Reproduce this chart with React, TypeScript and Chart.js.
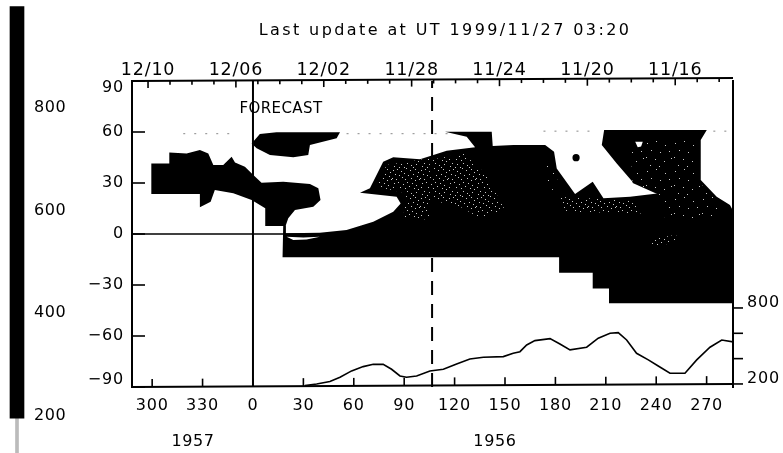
import React, { useEffect, useRef } from "react";
import { Chart, registerables } from "chart.js";

Chart.register(...registerables);

type P = [number, number];

const FONT = "'DejaVu Sans', sans-serif";
const latTicks = [-90, -60, -30, 0, 30, 60, 90];
const lonTicks = [-60, -30, 0, 30, 60, 90, 120, 150, 180, 210, 240, 270];
const topLabels = ["12/10", "12/06", "12/02", "11/28", "11/24", "11/20", "11/16"];
const dayTicks = [0, 1, 2, 3, 4, 5, 6, 7, 8, 9, 10, 11, 12, 13, 14, 15, 16, 17, 18, 19, 20, 21, 22, 23, 24, 25, 26];
const rightTicks = [200, 400, 600, 800];
const rightLabels = [200, 800];
const barTicks = [200, 400, 600, 800];
const forecastLon = 0;
const nowLon = 106.6;

const bandWest: P[] = [
  [-60.5, 41.5], [-49.8, 41.5], [-49.8, 48], [-39.5, 47.4], [-31.6, 49.4], [-26.6, 47.4], [-23.6, 40.6],
  [-17.7, 40.6], [-12.7, 45.5], [-10.7, 42], [-4.8, 39.6], [0.2, 34.7], [5.1, 30.2], [18, 30.8], [33.9, 29.4],
  [38.9, 26.9], [40.2, 20], [35.9, 16.1], [25, 14.1], [21, 9.2], [19.4, 4.7], [7.3, 4.7], [7.3, 15.1],
  [-0.8, 20], [-11.7, 23.9], [-22.7, 25.9], [-25.2, 19], [-31.6, 15.7], [-31.6, 23.5], [-60.5, 23.5],
];
const blobNorth: P[] = [
  [-0.8, 53.3], [4.1, 58.8], [14, 59.8], [51.8, 59.8], [49.8, 56.3], [33.9, 52.3], [32.9, 46.5], [24, 45.1],
  [10.1, 46.5], [2.2, 50.4],
];
const mainRegion: P[] = [
  [17.6, -13.7], [18, 5], [19.6, 5], [19.6, 0.5], [39.8, 0.8], [55.7, 2.3], [71.6, 7.2], [83.5, 13.1], [87.9, 18], [85.5, 21.9],
  [63.7, 24.3], [69.6, 26.9], [77.5, 42.5], [83.5, 45.1], [99.4, 43.9], [107.4, 46.5], [115.3, 49], [132.2, 51],
  [127.2, 57.2], [114.3, 60.2], [142.1, 60.2], [142.7, 51.7], [155, 52.3], [173.9, 52.3], [179.2, 48.4],
  [180.8, 38.6], [191.7, 23.5], [202.2, 30.8], [208.6, 21], [224.4, 21.9], [244.3, 24.3], [226.4, 30.2],
  [216.5, 41.5], [207.6, 52.3], [209, 61.2], [270.1, 61.2], [266.5, 55.3], [266.5, 31.7], [276, 21.9],
  [283.9, 17], [286, 13.1], [286, -40.8], [211.9, -40.8], [211.9, -32], [202.2, -32], [202.2, -22.8],
  [182.2, -22.8], [182.2, -13.7],
];
const sliverWhite: P[] = [[20, -1.6], [30, -2], [39.8, -1.6], [31.9, -3.2], [24, -3.5]];
const holeWhite: P[] = [[227.5, 54.2], [232, 54.2], [231, 51.5], [229, 51]];
const spotBlack: P[] = [[192.3, 44.9]];

const speckleDense: P[][] = [
  [[105.4, 43.5], [125.2, 47.4], [138.1, 35.7], [150, 14.1], [135.2, 9.2], [123.3, 16.1], [105.4, 20]],
  [[79.5, 40.6], [105.3, 44.5], [105.3, 8.2], [89.5, 10.2], [91.4, 23.9], [73.6, 27.8]],
  [[180.8, 21.9], [224.4, 19.9], [232.4, 12.1], [186.8, 13.1]],
  [[234.4, -3.5], [252, -0.5], [251, -5], [236, -8]],
];
const speckleSparse: P[][] = [
  [[173.9, 41.5], [180.8, 35.7], [181.8, 21.9], [174.8, 29.8]],
  [[224.4, 55.3], [264.1, 55.3], [264.1, 27.8], [244.3, 21.9], [226, 30]],
  [[244.3, 21.9], [266, 30], [280, 15], [275, 8], [244, 10]],
];
const dustLat60: P[][] = [
  [[-41.5, 59], [-11.7, 59]],
  [[55.7, 59], [117, 59]],
  [[172.9, 60.5], [202.6, 60.5]],
  [[274, 60.5], [285, 60.5]],
];

const speedCurve: P[] = [
  [30.9, 187], [37.9, 200], [45.8, 219], [51.8, 253], [58.7, 303], [65.6, 337], [71.6, 355], [77.5, 355],
  [82.5, 316], [87.5, 263], [91.4, 253], [97.4, 263], [105.3, 303], [113.3, 316], [121.2, 358], [129.1, 397],
  [137.1, 411], [149, 416], [154.9, 442], [158.9, 455], [162.9, 508], [167.8, 542], [176.8, 558], [182.7, 516],
  [188.7, 469], [198.6, 490], [205.5, 561], [212.5, 600], [217.4, 605], [222.4, 547], [228.3, 442], [235.3, 390],
  [241.2, 342], [248.2, 285], [257.1, 285], [264.1, 390], [272, 490], [279, 547], [285.9, 532],
];

// The scanned frame leans: its right end sits about 1.8 degrees higher than its left end.
const frameTop: P[] = [[-72, 90], [285.7, 91.8]];
const frameBottom: P[] = [[-72, -90], [285.7, -88.2]];

const titleText = "Last update at UT 1999/11/27 03:20";
const notes: { text: string; lon: number; lat: number; size: number; spacing: number }[] = [
  { text: titleText, lon: 114.3, lat: 119.5, size: 16, spacing: 2.4 },
  { text: "FORECAST", lon: 16.7, lat: 73.7, size: 15, spacing: 0.4 },
  { text: "1957", lon: -35.7, lat: -122.3, size: 16, spacing: 0.6 },
  { text: "1956", lon: 144, lat: -122.3, size: 16, spacing: 0.6 },
];

// Dither tiles (pixel offsets in a 28x28 tile) for the speckled parts of the scan.
const tileDense: P[] = [
  [1, 2], [5, 1], [9, 3], [14, 0], [18, 2], [23, 1], [26, 4], [3, 6], [7, 7], [12, 5], [16, 7], [21, 6], [25, 8],
  [0, 10], [4, 11], [10, 9], [13, 11], [19, 10], [23, 12], [27, 11], [2, 15], [6, 14], [11, 16], [15, 14], [20, 15],
  [24, 17], [1, 19], [8, 19], [13, 20], [17, 18], [22, 20], [26, 21], [4, 23], [9, 24], [15, 23], [19, 25], [24, 24],
  [2, 26], [7, 27], [12, 27], [21, 27],
];
const tileSparse: P[] = [
  [3, 3], [12, 1], [21, 5], [7, 10], [16, 12], [25, 11], [2, 17], [11, 19], [20, 21], [27, 18], [6, 25], [15, 26],
];

const pts = (a: P[]) => a.map(([x, y]) => ({ x, y }));

function makePattern(tile: P[]): CanvasPattern | string {
  const c = document.createElement("canvas");
  c.width = 28;
  c.height = 28;
  const g = c.getContext("2d");
  if (!g) return "#000";
  g.fillStyle = "#000";
  g.fillRect(0, 0, 28, 28);
  g.fillStyle = "#c8c8c8";
  tile.forEach(([i, j]) => g.fillRect(i, j, 1, 1));
  return g.createPattern(c, "repeat") || "#000";
}

const polygon = (data: P[], color: any, order: number) => ({
  data: pts(data),
  showLine: true,
  fill: "shape",
  backgroundColor: color,
  borderColor: color,
  borderWidth: 0,
  pointRadius: 0,
  order,
});

const line = (data: P[], opts: any, order: number) => ({
  data: pts(data),
  showLine: true,
  fill: false,
  borderColor: "#000",
  borderWidth: 1.5,
  pointRadius: 0,
  order,
  ...opts,
});

const inwardTicks = {
  id: "inwardTicks",
  beforeDraw(chart: any) {
    chart.ctx.letterSpacing = "0.8px";
  },
  afterDatasetsDraw(chart: any) {
    const { ctx, chartArea: a, scales } = chart;
    ctx.save();
    ctx.strokeStyle = "#000";
    ctx.lineWidth = 1.6;
    const lean = (x: number) => (-3 * (x - a.left)) / (a.right - a.left);
    const seg = (x1: number, y1: number, x2: number, y2: number) => {
      ctx.beginPath();
      ctx.moveTo(x1, y1);
      ctx.lineTo(x2, y2);
      ctx.stroke();
    };
    lonTicks.forEach((v) => {
      const x = scales.x.getPixelForValue(v);
      seg(x, a.bottom + lean(x), x, a.bottom + lean(x) - 8);
    });
    dayTicks.forEach((v) => {
      const x = scales.x2.getPixelForValue(v);
      seg(x, a.top + lean(x), x, a.top + lean(x) + (v % 4 === 0 ? 7 : 4));
    });
    latTicks.forEach((v) => {
      const y = scales.y.getPixelForValue(v);
      seg(a.left, y, a.left + 13, y);
    });
    rightTicks.forEach((v) => {
      const y = scales.v.getPixelForValue(v);
      seg(a.right, y, a.right + 10, y);
    });
    ctx.fillStyle = "#000";
    ctx.textAlign = "center";
    ctx.textBaseline = "middle";
    notes.forEach((n) => {
      ctx.font = `${n.size}px ${FONT}`;
      ctx.letterSpacing = `${n.spacing}px`;
      ctx.fillText(n.text, scales.x.getPixelForValue(n.lon), scales.y.getPixelForValue(n.lat));
    });
    ctx.restore();
  },
};

export default function App() {
  const mainRef = useRef<HTMLCanvasElement>(null);
  const barRef = useRef<HTMLCanvasElement>(null);

  useEffect(() => {
    const dense = makePattern(tileDense);
    const sparse = makePattern(tileSparse);
    const axisFont = { family: FONT, size: 16 };
    const border = { display: true, color: "#000", width: 2 };
    const noGrid = { display: false, drawTicks: false };

    const main = new Chart(mainRef.current as HTMLCanvasElement, {
      type: "scatter",
      data: {
        datasets: [
          polygon(mainRegion, "#000", 10),
          polygon(bandWest, "#000", 10),
          polygon(blobNorth, "#000", 10),
          ...speckleDense.map((s) => polygon(s, dense, 9)),
          ...speckleSparse.map((s) => polygon(s, sparse, 9)),
          polygon(sliverWhite, "#fff", 8),
          polygon(holeWhite, "#fff", 8),
          {
            data: pts(spotBlack),
            pointRadius: 3.6,
            pointBackgroundColor: "#000",
            pointBorderWidth: 0,
            order: 8,
          },
          ...dustLat60.map((d) =>
            line(d, { borderColor: "#888", borderWidth: 1, borderDash: [2, 9] }, 7)
          ),
          line([[-72, 0], [286, 0]], { borderWidth: 1.5 }, 5),
          line([[forecastLon, -90], [forecastLon, 90]], { borderWidth: 2 }, 5),
          line([[nowLon, -90], [nowLon, 90]], { borderWidth: 2, borderDash: [14, 9] }, 5),
          line(speedCurve, { yAxisID: "v", borderWidth: 1.6 }, 4),
          line(frameTop, { borderWidth: 2, clip: false }, 3),
          line(frameBottom, { borderWidth: 2, clip: false }, 3),
        ] as any,
      },
      options: {
        animation: false,
        responsive: false,
        layout: { padding: 0, autoPadding: false },
        plugins: { legend: { display: false }, tooltip: { enabled: false } },
        scales: {
          x: {
            type: "linear",
            position: "bottom",
            min: -72,
            max: 285.7,
            bounds: "data",
            grid: noGrid,
            border: { display: false },
            afterBuildTicks: (s: any) => { s.ticks = lonTicks.map((value) => ({ value })); },
            afterFit: (s: any) => { s.height = 66; },
            ticks: {
              color: "#000",
              font: axisFont,
              padding: 9,
              maxRotation: 0,
              autoSkip: false,
              callback: (v: any) => String(v < 0 ? v + 360 : v),
            },
          },
          x2: {
            type: "linear",
            position: "top",
            min: -0.73,
            max: 26.63,
            bounds: "data",
            grid: noGrid,
            border: { display: false },
            afterBuildTicks: (s: any) => { s.ticks = dayTicks.map((value) => ({ value })); },
            afterFit: (s: any) => { s.height = 81; },
            ticks: {
              color: "#000",
              font: { family: FONT, size: 17.5 },
              padding: 0,
              maxRotation: 0,
              autoSkip: false,
              callback: (v: any) => (v % 4 === 0 ? topLabels[v / 4] : ""),
            },
          },
          y: {
            type: "linear",
            position: "left",
            min: -90,
            max: 90,
            bounds: "data",
            grid: noGrid,
            border,
            afterBuildTicks: (s: any) => { s.ticks = latTicks.map((value) => ({ value })); },
            afterFit: (s: any) => { s.width = 132; },
            ticks: {
              color: "#000",
              font: { ...axisFont, lineHeight: 0.85 },
              padding: 8,
              autoSkip: false,
              callback: (v: any) => {
                const t = v < 0 ? "\u2212" + Math.abs(v) : String(v);
                if (v === 90) return ["", t];
                if (v === -90) return [t, ""];
                return t;
              },
            },
          },
          v: {
            type: "linear",
            position: "right",
            min: 176,
            max: 2592,
            bounds: "data",
            grid: noGrid,
            border: { ...border },
            afterBuildTicks: (s: any) => { s.ticks = rightTicks.map((value) => ({ value })); },
            afterFit: (s: any) => { s.width = 50; },
            ticks: {
              color: "#000",
              font: { ...axisFont, lineHeight: 0.6 },
              padding: 14,
              autoSkip: false,
              callback: (v: any) => (rightLabels.includes(v) ? [String(v), ""] : ""),
            },
          },
        },
      } as any,
      plugins: [inwardTicks],
    });

    const bar = new Chart(barRef.current as HTMLCanvasElement, {
      type: "bar",
      data: {
        labels: ["colour scale"],
        datasets: [
          { data: [[196, 997]], backgroundColor: "#000", barThickness: 14, grouped: false, order: 1 },
          { data: [[128, 196]], backgroundColor: "#bbb", barThickness: 3, grouped: false, order: 2 },
        ] as any,
      },
      options: {
        animation: false,
        responsive: false,
        layout: { padding: 0, autoPadding: false },
        plugins: { legend: { display: false }, tooltip: { enabled: false } },
        scales: {
          x: { display: false, grid: { display: false } },
          y: {
            position: "right",
            min: 128,
            max: 1010,
            bounds: "data",
            grid: noGrid,
            border: { display: false },
            afterBuildTicks: (s: any) => { s.ticks = barTicks.map((value) => ({ value })); },
            afterFit: (s: any) => {
              s.width = 56;
              s.paddingTop = 0;
              s.paddingBottom = 0;
            },
            ticks: { color: "#000", font: axisFont, padding: 0, autoSkip: false },
          },
        },
      } as any,
      plugins: [{ id: "spacing", beforeDraw(c: any) { c.ctx.letterSpacing = "0.6px"; } }],
    });

    return () => {
      main.destroy();
      bar.destroy();
    };
  }, []);

  return (
    <div style={{ position: "fixed", left: 0, top: 0, width: 783, height: 453, background: "#fff", overflow: "hidden" }}>
      <canvas ref={mainRef} width={783} height={453} style={{ position: "absolute", left: 0, top: 0 }} />
      <canvas ref={barRef} width={90} height={453} style={{ position: "absolute", left: 0, top: 0 }} />
    </div>
  );
}
